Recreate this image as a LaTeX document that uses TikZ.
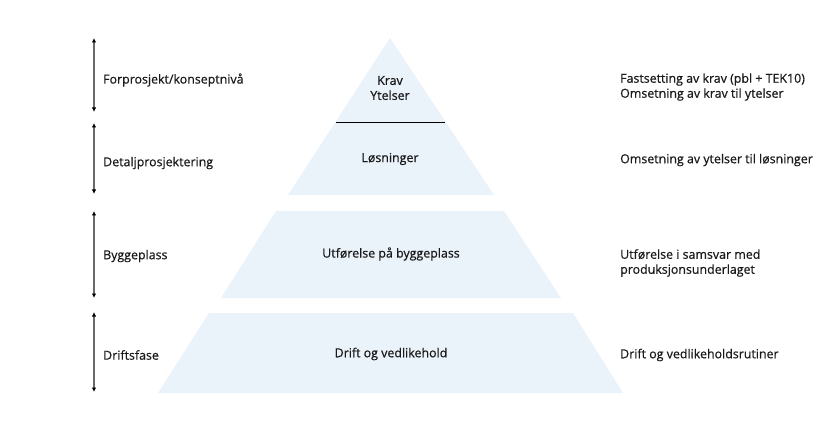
\documentclass[tikz,border=0pt]{standalone}
\usepackage{fontspec}
\setmainfont{Open Sans}[FakeBold=0.6,AutoFakeBold=0.6]
\usetikzlibrary{arrows.meta}
\definecolor{pyr}{HTML}{EAF2FA}
\definecolor{txt}{HTML}{1A1A1A}
\definecolor{arr}{HTML}{6A6A6A}
\begin{document}
\begin{tikzpicture}[x=1pt,y=-1pt,
  lbl/.style={font=\fontsize{12.4}{15}\selectfont,text=txt,inner sep=0pt},
  lft/.style={lbl,anchor=west},
  ctr/.style={lbl,align=center},
  rgt/.style={lbl,anchor=west,align=left},
  phase/.style={draw=arr,line width=1.7pt,{Latex[length=4.5pt,width=4.5pt,color=black]}-{Latex[length=4.5pt,width=4.5pt,color=black]}},
  layer/.style={fill=pyr,draw=none}]
\useasboundingbox (0,0) rectangle (824,438);
% pyramid
\fill[layer] (390,38) -- (494,195) -- (288,195) -- cycle;
\coordinate (sl) at (336,122);
\coordinate (sr) at (445,122);
\draw[black,line width=0.8pt] (sl) -- (sr);
\fill[layer] (276,211) -- (504,211) -- (561,298) -- (221,298) -- cycle;
\fill[layer] (209,313) -- (573,313) -- (623,393) -- (158,393) -- cycle;
% arrows
\coordinate (a1t) at (94,38); \coordinate (a1b) at (94,112);
\coordinate (a2t) at (94,123); \coordinate (a2b) at (94,194);
\coordinate (a3t) at (94,211); \coordinate (a3b) at (94,298);
\coordinate (a4t) at (94,312); \coordinate (a4b) at (94,392);
\draw[phase] (a1t) -- (a1b);
\draw[phase] (a2t) -- (a2b);
\draw[phase] (a3t) -- (a3b);
\draw[phase] (a4t) -- (a4b);
% left labels
\node[lft] (l1) at (103,80) {Forprosjekt/konseptnivå};
\node[lft] (l2) at (103,163) {Detaljprosjektering};
\node[lft] (l3) at (103,256) {Byggeplass};
\node[lft] (l4) at (103,355) {Driftsfase};
% center labels
\node[ctr] (c1) at (390,88) {Krav\\Ytelser};
\node[ctr] (c2) at (390,159) {Løsninger};
\node[ctr] (c3) at (391,254) {Utførelse på byggeplass};
\node[ctr] (c4) at (391,354) {Drift og vedlikehold};
% right labels
\node[rgt] (r1) at (620,87) {Fastsetting av krav (pbl + TEK10)\\Omsetning av krav til ytelser};
\node[rgt] (r2) at (620,160) {Omsetning av ytelser til løsninger};
\node[rgt] (r3) at (620,263) {Utførelse i samsvar med\\produksjonsunderlaget};
\node[rgt] (r4) at (620,355) {Drift og vedlikeholdsrutiner};
\end{tikzpicture}
\end{document}
